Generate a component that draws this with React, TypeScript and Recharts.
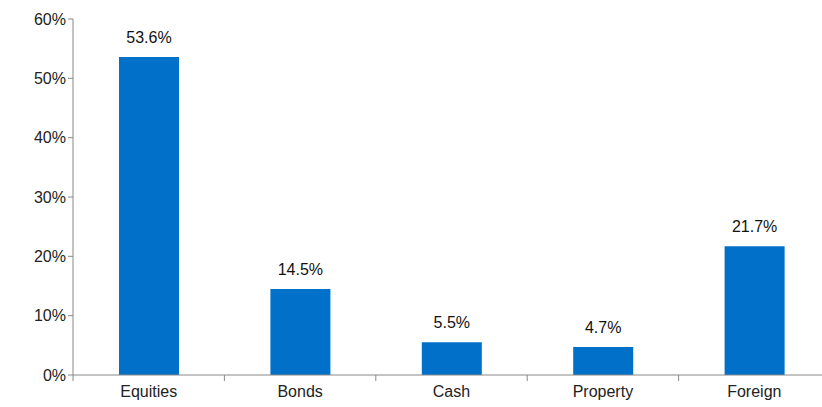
import { BarChart, Bar, XAxis, YAxis, LabelList } from "recharts";

const categories = ["Equities", "Bonds", "Cash", "Property", "Foreign"];
const shares = [53.6, 14.5, 5.5, 4.7, 21.7];
const yTicks = [0, 10, 20, 30, 40, 50, 60];

const data = categories.map((name, i) => ({ name, value: shares[i] }));

const BAND = 757 / categories.length;

function CatTick(props: any) {
  const { x, y, payload, index } = props;
  return (
    <g>
      {index === 0 && <line x1={x - BAND / 2} y1={y - 8} x2={x - BAND / 2} y2={y - 2} stroke="#888" />}
      <line x1={x + BAND / 2} y1={y - 8} x2={x + BAND / 2} y2={y - 2} stroke="#888" />
      <text x={x} y={y + 14} textAnchor="middle" fontSize={16} fill="#222">{payload.value}</text>
    </g>
  );
}

export default function App() {
  return (
    <div style={{ position: "absolute", left: 0, top: 0, width: 822, height: 407, overflow: "hidden", fontFamily: "'Liberation Sans', Arial, sans-serif" }}>
      <BarChart width={830} height={407} data={data} margin={{ top: 19, right: 0, bottom: 0, left: 13 }}>
        <XAxis dataKey="name" height={32} axisLine={{ stroke: "#888" }} tickLine={false} tick={<CatTick />} interval={0} />
        <YAxis
          width={60}
          domain={[0, 60]}
          ticks={yTicks}
          tickFormatter={(v) => `${v}%`}
          axisLine={{ stroke: "#888" }}
          tickLine={{ stroke: "#888" }}
          tickSize={5}
          tick={{ fontSize: 16, fill: "#222" }}
        />
        <Bar dataKey="value" fill="#0070c8" barSize={60} isAnimationActive={false}>
          <LabelList dataKey="value" position="top" offset={14} formatter={(v: any) => `${Number(v).toFixed(1)}%`} style={{ fontSize: 16, fill: "#111" }} />
        </Bar>
      </BarChart>
    </div>
  );
}
